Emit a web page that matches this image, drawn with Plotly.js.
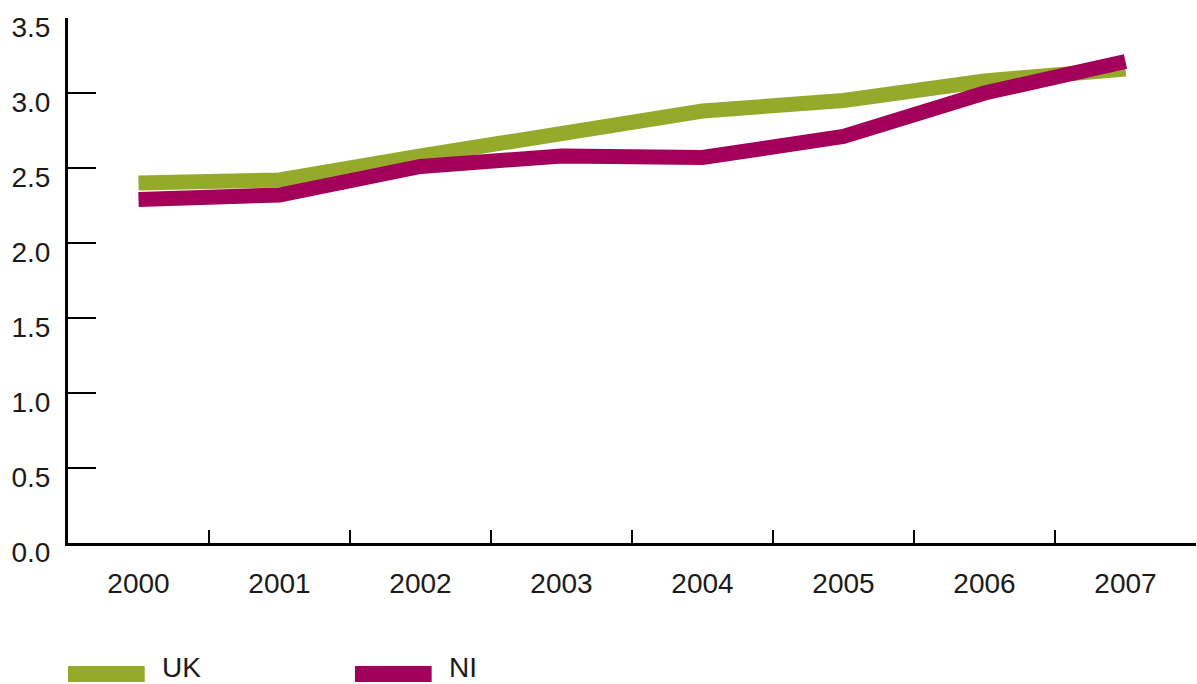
<!DOCTYPE html>
<html>
<head>
<meta charset="utf-8">
<script src="https://cdn.plot.ly/plotly-3.0.1.min.js"></script>
<style>html,body{margin:0;padding:0;background:#fff;}#chart{width:1197px;height:684px;}</style>
</head>
<body>
<div id="chart"></div>
<script>
const years = ['2000','2001','2002','2003','2004','2005','2006','2007'];
const ukValues = [2.40, 2.42, 2.58, 2.74, 2.88, 2.95, 3.08, 3.16];
const niValues = [2.29, 2.32, 2.51, 2.58, 2.57, 2.71, 3.00, 3.21];
const seriesNames = ['UK', 'NI'];
const seriesColors = ['#95AA2A', '#A3005C'];
const yTickVals = [0, 0.5, 1, 1.5, 2, 2.5, 3, 3.5];
const yTickText = ['0.0','0.5','1.0','1.5','2.0','2.5','3.0','3.5'];

const fontFam = 'Liberation Sans, Arial, sans-serif';
const txtColor = '#1a1a1a';

const traces = [ukValues, niValues].map((vals, i) => ({
  type: 'scatter', mode: 'lines', x: years, y: vals, name: seriesNames[i],
  line: {color: seriesColors[i], width: 15}, showlegend: false, hoverinfo: 'x+y+name'
}));

const legendX = [0, 0.2544];
const shapes = seriesNames.map((n, i) => ({
  type: 'rect', xref: 'paper', yref: 'paper',
  x0: legendX[i], x1: legendX[i] + 0.068, y0: -0.2648, y1: -0.2343,
  fillcolor: seriesColors[i], line: {width: 0}
}));
const annotations = seriesNames.map((n, i) => ({
  xref: 'paper', yref: 'paper', x: legendX[i] + 0.0824, y: -0.2684,
  xanchor: 'left', yanchor: 'bottom', text: n, showarrow: false,
  borderpad: 0,
  font: {family: fontFam, size: 28, color: txtColor}
}));

const layout = {
  width: 1197, height: 684,
  margin: {l: 68, r: 1, t: 18, b: 141},
  paper_bgcolor: '#fff', plot_bgcolor: '#fff',
  showlegend: false,
  font: {family: fontFam, size: 28, color: txtColor},
  xaxis: {
    type: 'category', range: [-0.5, 7.5], tickson: 'boundaries',
    ticks: 'inside', ticklen: 13, tickwidth: 2.5, tickcolor: '#000',
    showline: true, linecolor: '#000', linewidth: 3, showgrid: false, zeroline: false,
    ticklabelstandoff: 13, tickfont: {family: fontFam, size: 28, color: txtColor}
  },
  yaxis: {
    range: [0, 3.5], tickvals: yTickVals, ticktext: yTickText,
    ticks: 'inside', ticklen: 28, tickwidth: 2.5, tickcolor: '#000',
    showline: true, linecolor: '#000', linewidth: 3, showgrid: false, zeroline: false,
    ticklabelstandoff: 9, ticklabelshift: 9, ticklabeloverflow: 'allow',
    tickfont: {family: fontFam, size: 28, color: txtColor}
  },
  shapes: shapes,
  annotations: annotations
};

Plotly.newPlot('chart', traces, layout, {displayModeBar: false, staticPlot: true});
</script>
</body>
</html>
